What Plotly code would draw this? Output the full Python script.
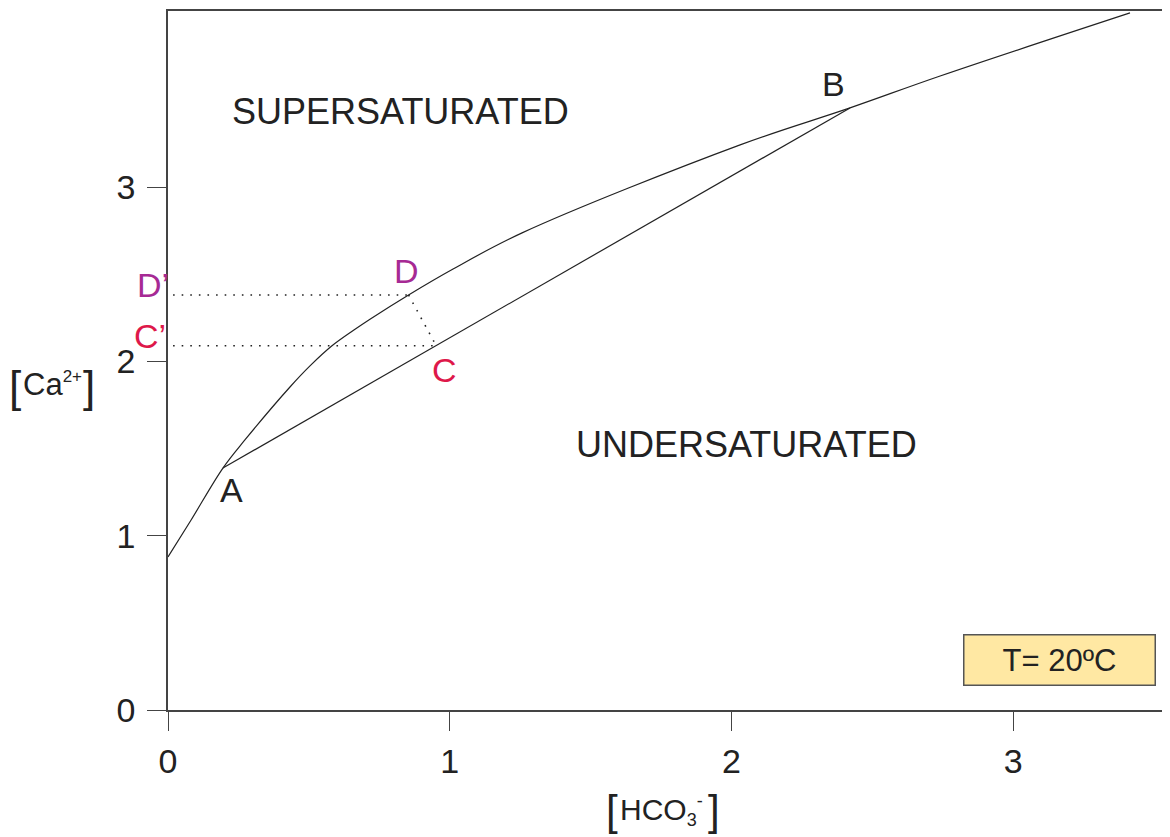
import plotly.graph_objects as go

# Saturation curve [Ca2+] vs [HCO3-]
curve_x = [0.0, 0.082, 0.195, 0.273, 0.433, 0.504, 0.581, 0.66, 0.717, 0.854, 1.012, 1.257, 2.031, 2.421, 2.741, 3.415]
curve_y = [0.878, 1.090, 1.388, 1.549, 1.853, 1.974, 2.088, 2.180, 2.242, 2.381, 2.530, 2.737, 3.242, 3.454, 3.637, 3.999]

# Mixing line A-B
mix_x = [0.195, 2.421]
mix_y = [1.388, 3.454]

# Points D and C and their projections on the [Ca2+] axis
D_pt = (0.854, 2.381)
C_pt = (0.952, 2.090)
proj_x0 = 0.018

x_ticks = [0, 1, 2, 3]
y_ticks = [0, 1, 2, 3]

LINE = "#222222"
PURPLE = "#A62A94"
RED = "#DE184A"
FONT = "Liberation Sans, Arial, sans-serif"

fig = go.Figure()
fig.add_trace(go.Scatter(x=curve_x, y=curve_y, mode="lines",
                         line=dict(color=LINE, width=1.2, shape="spline", smoothing=1.0),
                         hoverinfo="skip", showlegend=False))
fig.add_trace(go.Scatter(x=mix_x, y=mix_y, mode="lines",
                         line=dict(color=LINE, width=1.2), hoverinfo="skip", showlegend=False))
dot = dict(color=LINE, width=1.6, dash="1.6px,7px")
fig.add_trace(go.Scatter(x=[proj_x0, D_pt[0]], y=[D_pt[1], D_pt[1]], mode="lines",
                         line=dot, hoverinfo="skip", showlegend=False))
fig.add_trace(go.Scatter(x=[proj_x0, C_pt[0]], y=[C_pt[1], C_pt[1]], mode="lines",
                         line=dot, hoverinfo="skip", showlegend=False))
fig.add_trace(go.Scatter(x=[D_pt[0], C_pt[0]], y=[D_pt[1], C_pt[1]], mode="lines",
                         line=dot, hoverinfo="skip", showlegend=False))

# labels in data coordinates (inside the plot)
labels = [
    ("SUPERSATURATED", 0.824, 3.431, "#222222", 36),
    ("UNDERSATURATED", 2.055, 1.526, "#222222", 36),
    ("A", 0.224, 1.262, "#222222", 34),
    ("B", 2.361, 3.591, "#222222", 34),
    ("D", 0.848, 2.519, PURPLE, 34),
    ("C", 0.983, 1.951, RED, 34),
]
for txt, x, y, col, size in labels:
    fig.add_annotation(x=x, y=y, text=txt, showarrow=False, xanchor="center", yanchor="middle",
                       font=dict(family=FONT, size=size, color=col))

fig.add_annotation(x=3.163, y=0.287, text="T= 20\u00baC", showarrow=False,
                   xanchor="center", yanchor="middle",
                   font=dict(family=FONT, size=31, color="#222222"),
                   bgcolor="#FFE8A3", bordercolor="#555555", borderwidth=1.5,
                   width=188, height=47)

# texts outside the plot area (paper coordinates, explicit anchors)
def paper_text(txt, x, y, size, col="#222222", xanchor="center"):
    fig.add_annotation(x=x, y=y, xref="paper", yref="paper", text=txt, showarrow=False,
                       xanchor=xanchor, yanchor="middle",
                       font=dict(family=FONT, size=size, color=col))

PX = lambda px: (px - 168) / 1002.0
PY = lambda py: (710 - py) / 699.0

paper_text("D\u2019", PX(153), PY(285), 34, PURPLE)
paper_text("C\u2019", PX(150), PY(336), 34, RED)

# [HCO3-] axis title
paper_text("[", PX(612), PY(810), 42)
paper_text('HCO<sub><span style="font-size:18px">3</span></sub>'
           '<sup><span style="font-size:18px">-</span></sup>', PX(618), PY(810), 30, xanchor="left")
paper_text("]", PX(714), PY(810), 42)

# [Ca2+] axis title
paper_text("[", PX(15), PY(386), 44)
paper_text('Ca<sup><span style="font-size:17px">2+</span></sup>', PX(21), PY(384), 31, xanchor="left")
paper_text("]", PX(89), PY(386), 44)

fig.update_xaxes(range=[0, 3.557], tickvals=x_ticks, ticktext=[str(v) for v in x_ticks],
                 showgrid=False, zeroline=False, showline=True, mirror=True,
                 linecolor="#444444", linewidth=1.5, ticks="outside", ticklen=19,
                 tickcolor="#444444", tickwidth=1.2, ticklabelstandoff=1,
                 tickfont=dict(family=FONT, size=34, color="#222222"))
fig.update_yaxes(range=[0, 4.01], tickvals=y_ticks, ticktext=[str(v) for v in y_ticks],
                 showgrid=False, zeroline=False, showline=True, mirror=False,
                 linecolor="#444444", linewidth=1.5, ticks="outside", ticklen=19,
                 tickcolor="#444444", tickwidth=1.2, ticklabelstandoff=5,
                 tickfont=dict(family=FONT, size=34, color="#222222"))

# page body has an 8px margin: size/margins chosen so the plot area lands at 168..1170 x 11..710
fig.update_layout(width=1162, height=829, margin=dict(l=160, r=0, t=3, b=127),
                  plot_bgcolor="white", paper_bgcolor="white", showlegend=False)

fig.write_html("out.html")
